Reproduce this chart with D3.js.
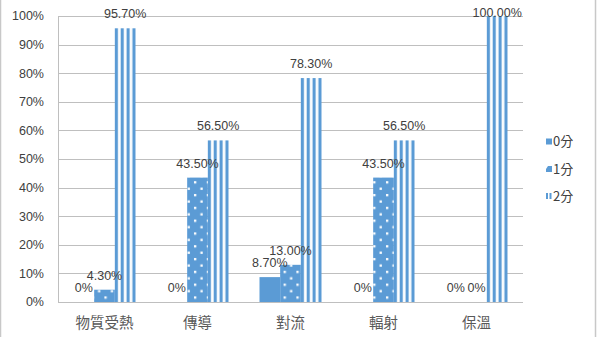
<!DOCTYPE html>
<html>
<head>
<meta charset="utf-8">
<script src="https://cdn.jsdelivr.net/npm/d3@7"></script>
<style>
  html, body { margin: 0; padding: 0; background: #fff; }
  svg { display: block; }
</style>
</head>
<body>
<div id="chart"></div>
<script>
/* data */
var categories = ["物質受熱", "傳導", "對流", "輻射", "保溫"],
    seriesNames = ["0分", "1分", "2分"],
    score0 = [0, 0, 8.7, 0, 0],
    score1 = [4.3, 43.5, 13.0, 43.5, 0],
    score2 = [95.7, 56.5, 78.3, 56.5, 100],
    yTicks = [0, 10, 20, 30, 40, 50, 60, 70, 80, 90, 100];

/* graphical parameters */
var width = 599,
    height = 337,
    plot = { left: 58, right: 523, top: 16, bottom: 302 },
    blue = "#5b9bd5",
    gridCol = "#bfbfbf",
    textCol = "#404040",
    font = "'Liberation Sans', Arial, sans-serif",
    cjkFont = "'Noto Sans CJK TC', 'Noto Sans CJK SC', sans-serif";

var svg = d3.select("#chart")
    .append("svg")
    .attr("width", width)
    .attr("height", height),
    defs = svg.append("defs");

// patterns: solid, dotted, vertical stripes
var dots = defs.append("pattern")
    .attr("id", "dots")
    .attr("patternUnits", "userSpaceOnUse")
    .attr("width", 12.8)
    .attr("height", 12.8);
dots.append("rect").attr("width", 12.8).attr("height", 12.8).attr("fill", blue);
dots.append("rect").attr("x", 2).attr("y", 2).attr("width", 2.3).attr("height", 2.3).attr("fill", "#fff");
dots.append("rect").attr("x", 8.4).attr("y", 8.4).attr("width", 2.3).attr("height", 2.3).attr("fill", "#fff");

var stripes = defs.append("pattern")
    .attr("id", "stripes")
    .attr("patternUnits", "objectBoundingBox")
    .attr("patternContentUnits", "objectBoundingBox")
    .attr("width", 1)
    .attr("height", 1);
stripes.append("rect").attr("width", 1).attr("height", 1).attr("fill", "#fff");
[0, 0.283, 0.567, 0.85].forEach(function(s) {
    stripes.append("rect")
        .attr("x", s)
        .attr("width", 0.15)
        .attr("height", 1)
        .attr("fill", blue);
});

var fills = [blue, "url(#dots)", "url(#stripes)"];

/* scales */
var x0 = d3.scaleBand()
    .domain(categories)
    .range([plot.left, plot.right])
    .paddingInner(1 / 3)
    .paddingOuter(1 / 6),
    x1 = d3.scaleBand()
    .domain(seriesNames)
    .range([0, x0.bandwidth()])
    .padding(0),
    y = d3.scaleLinear()
    .domain([0, 100])
    .range([plot.bottom, plot.top]);

var rows = [score0, score1, score2].map(function(vals, s) {
    return vals.map(function(v, i) {
        return { cat: categories[i], ser: seriesNames[s], s: s, v: v };
    });
});

// outer frame
svg.append("rect")
    .attr("x", 0.5)
    .attr("y", -5)
    .attr("width", 595)
    .attr("height", height + 10)
    .attr("fill", "none")
    .attr("stroke", "#c8c8c8")
    .attr("stroke-width", 1.5);

/* grids */
svg.append("g")
    .attr("class", "grids")
    .selectAll("line")
    .data(yTicks)
    .join("line")
    .attr("x1", plot.left)
    .attr("x2", plot.right)
    .attr("y1", function(d) { return Math.round(y(d)) + 0.5; })
    .attr("y2", function(d) { return Math.round(y(d)) + 0.5; })
    .attr("stroke", gridCol)
    .attr("stroke-width", 1);

// y axis line
svg.append("line")
    .attr("x1", plot.left + 0.5)
    .attr("x2", plot.left + 0.5)
    .attr("y1", y(100))
    .attr("y2", y(0))
    .attr("stroke", gridCol);

svg.append("g")
    .selectAll("text")
    .data(yTicks)
    .join("text")
    .attr("x", 44)
    .attr("y", function(d) { return y(d); })
    .attr("dy", "0.35em")
    .attr("text-anchor", "end")
    .attr("font-family", font)
    .attr("font-size", 12.5)
    .attr("fill", textCol)
    .text(function(d) { return d + "%"; });

/* bars */
var bars = svg.append("g").attr("class", "bars");
rows.forEach(function(r) {
    bars.append("g")
        .selectAll("rect")
        .data(r.filter(function(d) { return d.v > 0; }))
        .join("rect")
        .attr("x", function(d) { return x0(d.cat) + x1(d.ser); })
        .attr("y", function(d) { return y(d.v); })
        .attr("width", x1.bandwidth())
        .attr("height", function(d) { return y(0) - y(d.v); })
        .attr("fill", function(d) { return fills[d.s]; });
});

/* data labels */
var labels = svg.append("g").attr("class", "labels");
rows.forEach(function(r) {
    labels.append("g")
        .selectAll("text")
        .data(r)
        .join("text")
        .attr("x", function(d) { return x0(d.cat) + x1(d.ser) + x1.bandwidth() / 2; })
        .attr("y", function(d) { return Math.max(y(d.v) - 10, 17); })
        .attr("text-anchor", "middle")
        .attr("font-family", font)
        .attr("font-size", 12.5)
        .attr("fill", textCol)
        .text(function(d) { return d.v === 0 ? "0%" : d.v.toFixed(2) + "%"; });
});

/* category labels */
svg.append("g")
    .selectAll("text")
    .data(categories)
    .join("text")
    .attr("x", function(d) { return x0(d) + x0.bandwidth() / 2; })
    .attr("y", 323)
    .attr("dy", "0.35em")
    .attr("text-anchor", "middle")
    .attr("font-family", cjkFont)
    .attr("font-size", 14.5)
    .attr("fill", "#595959")
    .text(function(d) { return d; });

/* legend */
var legend = svg.append("g")
    .attr("class", "legend"),
    legY = [141.5, 169, 196];

var items = legend.selectAll("g")
    .data(seriesNames)
    .join("g")
    .attr("transform", function(d, i) { return "translate(546," + legY[i] + ")"; });

items.each(function(d, i) {
    var g = d3.select(this);
    if (i === 0) {
        g.append("rect").attr("x", 0).attr("y", -3).attr("width", 6).attr("height", 6).attr("fill", blue);
    } else if (i === 1) {
        g.append("path").attr("d", "M0,0 L2,-3 L6,-3 L6,3 L0,3 Z").attr("fill", blue);
    } else {
        g.append("rect").attr("x", 0).attr("y", -3).attr("width", 2).attr("height", 6).attr("fill", blue);
        g.append("rect").attr("x", 3.5).attr("y", -3).attr("width", 2).attr("height", 6).attr("fill", blue);
    }
    g.append("text")
        .attr("x", 7)
        .attr("y", 0)
        .attr("dy", "0.35em")
        .attr("font-family", cjkFont)
        .attr("font-size", 13)
        .attr("fill", textCol)
        .text(d);
});
</script>
</body>
</html>
